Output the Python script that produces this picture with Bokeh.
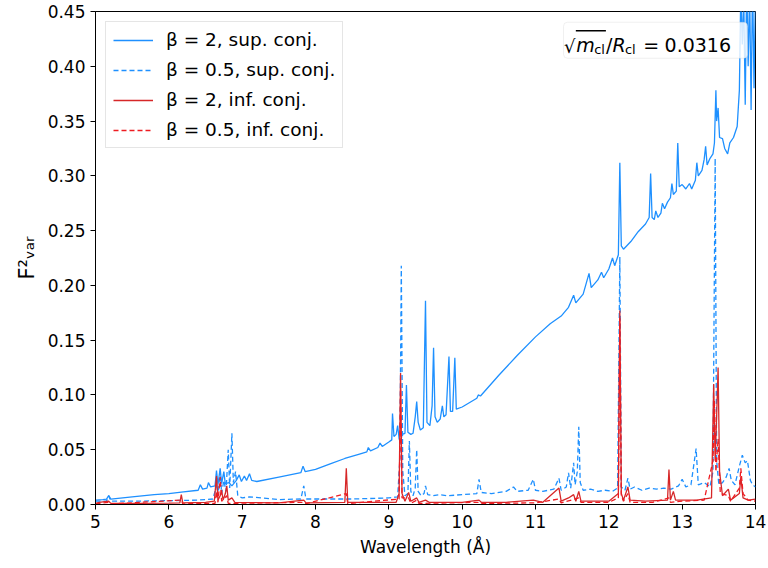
from bokeh.plotting import figure
from bokeh.models import (Range1d, FixedTicker, PrintfTickFormatter, Legend, LegendItem,
                          Label, BoxAnnotation)
from bokeh.embed import file_html
from bokeh.resources import INLINE

# ---------------- data ----------------
# beta = 2, superior conjunction (solid blue)
sup2_wl = [5.00, 5.10, 5.15, 5.18, 5.21, 5.50, 5.80, 6.00, 6.20, 6.40, 6.43, 6.46, 6.52, 6.54, 6.57,
           6.63, 6.65, 6.67, 6.70, 6.72, 6.75, 6.77, 6.82, 6.86, 6.92, 6.96, 6.99, 7.03, 7.06, 7.10,
           7.13, 7.20, 7.50, 7.80, 7.83, 7.86, 8.00, 8.20, 8.40, 8.60, 8.70, 8.72, 8.75, 8.85, 8.88,
           8.91, 9.00, 9.04, 9.05, 9.07, 9.10, 9.12, 9.14, 9.16, 9.18, 9.22, 9.24, 9.26, 9.30, 9.33,
           9.36, 9.38, 9.40, 9.43, 9.47, 9.50, 9.52, 9.56, 9.59, 9.61, 9.63, 9.66, 9.70, 9.73, 9.75,
           9.78, 9.82, 9.84, 9.87, 9.90, 9.92, 10.00, 10.20, 10.22, 10.25, 10.50, 10.75, 11.00, 11.20,
           11.35, 11.45, 11.52, 11.55, 11.65, 11.73, 11.76, 11.85, 11.90, 11.93, 12.00, 12.05, 12.08,
           12.13, 12.15, 12.17, 12.20, 12.30, 12.40, 12.50, 12.55, 12.57, 12.59, 12.62, 12.64, 12.67,
           12.71, 12.73, 12.76, 12.80, 12.84, 12.86, 12.88, 12.92, 12.94, 12.96, 13.00, 13.05, 13.10,
           13.13, 13.18, 13.20, 13.22, 13.27, 13.30, 13.32, 13.34, 13.38, 13.42, 13.44, 13.46, 13.47,
           13.49, 13.51, 13.55, 13.58, 13.62, 13.65, 13.70, 13.75, 13.78, 13.80, 13.82, 13.84, 13.86,
           13.88, 13.90, 13.92, 13.94, 13.96, 13.98, 14.00]
sup2_f = [0.004, 0.0045, 0.005, 0.008, 0.005, 0.007, 0.009, 0.010, 0.0115, 0.013, 0.018, 0.014, 0.015, 0.020, 0.016,
          0.017, 0.031, 0.018, 0.033, 0.019, 0.030, 0.019, 0.020, 0.017, 0.022, 0.027, 0.021, 0.026, 0.022, 0.028,
          0.022, 0.021, 0.025, 0.029, 0.035, 0.030, 0.032, 0.037, 0.042, 0.046, 0.048, 0.052, 0.049, 0.052, 0.056,
          0.053, 0.057, 0.059, 0.083, 0.062, 0.064, 0.072, 0.060, 0.056, 0.064, 0.065, 0.109, 0.066, 0.064, 0.065,
          0.080, 0.094, 0.075, 0.068, 0.070, 0.186, 0.075, 0.072, 0.090, 0.143, 0.080, 0.075, 0.078, 0.090, 0.080,
          0.082, 0.135, 0.085, 0.085, 0.134, 0.087, 0.089, 0.097, 0.100, 0.099, 0.118, 0.136, 0.153, 0.165,
          0.172, 0.180, 0.191, 0.184, 0.192, 0.211, 0.198, 0.205, 0.212, 0.207, 0.215, 0.225, 0.218,
          0.228, 0.312, 0.236, 0.233, 0.240, 0.249, 0.256, 0.262, 0.302, 0.262, 0.260, 0.268, 0.262,
          0.266, 0.275, 0.270, 0.276, 0.280, 0.293, 0.283, 0.286, 0.330, 0.290, 0.292, 0.288, 0.293,
          0.288, 0.296, 0.312, 0.300, 0.305, 0.315, 0.327, 0.310, 0.316, 0.320, 0.330, 0.378, 0.350,
          0.362, 0.335, 0.334, 0.325, 0.320, 0.330, 0.335, 0.345, 0.378, 0.470, 0.420, 0.460, 0.365,
          0.480, 0.400, 0.470, 0.360, 0.480, 0.380, 0.470]

# beta = 0.5, superior conjunction (dashed blue)
sup05_wl = [5.00, 5.15, 5.18, 5.21, 5.50, 6.00, 6.40, 6.60, 6.63, 6.65, 6.67, 6.70, 6.72, 6.75, 6.78,
            6.81, 6.83, 6.86, 6.88, 6.91, 6.94, 7.00, 7.10, 7.50, 7.80, 7.84, 7.87, 8.20, 8.50, 9.00,
            9.12, 9.15, 9.17, 9.19, 9.22, 9.26, 9.28, 9.30, 9.33, 9.36, 9.38, 9.40, 9.44, 9.48, 9.50,
            9.53, 9.60, 9.70, 9.80, 10.00, 10.20, 10.23, 10.26, 10.40, 10.60, 10.70, 10.75, 10.90, 10.97,
            11.00, 11.10, 11.25, 11.32, 11.35, 11.42, 11.45, 11.48, 11.52, 11.54, 11.57, 11.59, 11.61,
            11.65, 11.75, 11.85, 11.95, 12.05, 12.12, 12.15, 12.17, 12.22, 12.26, 12.29, 12.35, 12.45,
            12.55, 12.65, 12.75, 12.85, 12.95, 13.00, 13.05, 13.12, 13.19, 13.22, 13.30, 13.38, 13.42,
            13.45, 13.47, 13.50, 13.55, 13.60, 13.64, 13.67, 13.72, 13.78, 13.82, 13.86, 13.89, 13.93,
            13.96, 14.00]
sup05_f = [0.003, 0.003, 0.008, 0.003, 0.003, 0.0035, 0.004, 0.005, 0.012, 0.020, 0.008, 0.030, 0.010, 0.022, 0.012,
           0.050, 0.015, 0.065, 0.020, 0.030, 0.008, 0.006, 0.007, 0.0045, 0.005, 0.017, 0.005, 0.005, 0.005, 0.006,
           0.007, 0.040, 0.218, 0.030, 0.008, 0.010, 0.058, 0.012, 0.008, 0.015, 0.050, 0.012, 0.008, 0.010, 0.017,
           0.009, 0.008, 0.009, 0.008, 0.009, 0.010, 0.023, 0.011, 0.010, 0.012, 0.016, 0.012, 0.013, 0.023,
           0.013, 0.012, 0.014, 0.024, 0.013, 0.016, 0.029, 0.015, 0.038, 0.018, 0.030, 0.071, 0.020,
           0.013, 0.014, 0.012, 0.013, 0.012, 0.015, 0.226, 0.016, 0.013, 0.024, 0.014, 0.016, 0.013,
           0.015, 0.014, 0.015, 0.014, 0.017, 0.023, 0.016, 0.018, 0.051, 0.018, 0.020, 0.016, 0.030,
           0.316, 0.040, 0.018, 0.020, 0.025, 0.033, 0.022, 0.018, 0.035, 0.045, 0.038, 0.040, 0.022,
           0.018, 0.016]

# beta = 2, inferior conjunction (solid red)
inf2_wl = [5.00, 5.05, 5.18, 5.21, 5.60, 6.00, 6.15, 6.17, 6.19, 6.50, 6.62, 6.65, 6.67, 6.70, 6.72,
           6.74, 6.77, 6.79, 6.81, 6.86, 6.90, 7.50, 7.84, 7.87, 8.40, 8.42, 8.44, 9.10, 9.14, 9.16,
           9.18, 9.22, 9.27, 9.30, 9.38, 9.41, 9.50, 9.55, 10.00, 10.23, 10.26, 10.60, 10.97, 11.10,
           11.32, 11.35, 11.45, 11.52, 11.55, 11.59, 11.62, 12.00, 12.13, 12.15, 12.17, 12.20, 12.26,
           12.29, 12.50, 12.80, 12.82, 12.84, 12.88, 12.91, 13.20, 13.40, 13.43, 13.45, 13.47, 13.49,
           13.51, 13.55, 13.63, 13.66, 13.78, 13.80, 13.83, 13.90, 14.00]
inf2_f = [0.001, 0.002, 0.003, 0.001, 0.001, 0.0012, 0.0015, 0.009, 0.0015, 0.002, 0.003, 0.026, 0.004, 0.008, 0.013,
          0.004, 0.010, 0.017, 0.004, 0.006, 0.002, 0.0015, 0.004, 0.0015, 0.002, 0.033, 0.002, 0.002, 0.010, 0.120,
          0.010, 0.003, 0.011, 0.003, 0.006, 0.002, 0.004, 0.002, 0.002, 0.004, 0.002, 0.002, 0.004, 0.002,
          0.015, 0.003, 0.006, 0.009, 0.003, 0.012, 0.003, 0.003, 0.010, 0.177, 0.010, 0.004, 0.016,
          0.004, 0.003, 0.004, 0.032, 0.004, 0.012, 0.004, 0.004, 0.006, 0.110, 0.040, 0.080, 0.125,
          0.030, 0.008, 0.014, 0.004, 0.010, 0.025, 0.006, 0.004, 0.005]

# beta = 0.5, inferior conjunction (dashed red)
inf05_wl = [5.00, 5.18, 5.21, 6.17, 6.19, 6.63, 6.65, 6.67, 6.70, 6.72, 6.79, 6.81, 7.84, 7.87, 8.42,
            8.44, 9.14, 9.16, 9.18, 9.27, 9.30, 9.38, 9.41, 10.23, 10.26, 11.00, 11.32, 11.35, 11.59,
            11.62, 12.00, 12.13, 12.15, 12.17, 12.20, 12.26, 12.29, 12.60, 12.82, 12.84, 13.00, 13.30,
            13.42, 13.44, 13.46, 13.49, 13.52, 13.63, 13.66, 13.78, 13.80, 13.83, 13.90, 14.00]
inf05_f = [0.0005, 0.002, 0.0005, 0.004, 0.0006, 0.001, 0.012, 0.002, 0.025, 0.003, 0.008, 0.001, 0.002, 0.0008, 0.010,
           0.0008, 0.005, 0.105, 0.006, 0.006, 0.001, 0.004, 0.001, 0.002, 0.001, 0.0015, 0.005, 0.0015, 0.006,
           0.002, 0.002, 0.006, 0.170, 0.008, 0.003, 0.010, 0.002, 0.002, 0.006, 0.002, 0.003, 0.004,
           0.040, 0.095, 0.030, 0.060, 0.010, 0.008, 0.003, 0.015, 0.033, 0.010, 0.004, 0.003]

x_ticks = [5, 6, 7, 8, 9, 10, 11, 12, 13, 14]
y_ticks = [0.00, 0.05, 0.10, 0.15, 0.20, 0.25, 0.30, 0.35, 0.40, 0.45]
labels = ["β = 2, sup. conj.", "β = 0.5, sup. conj.", "β = 2, inf. conj.", "β = 0.5, inf. conj."]

# ---------------- figure ----------------
FONT = "DejaVu Sans"
BLUE = "#1E90FF"
RED = "#D62728"
RED2 = "#EE1C22"

p = figure(width=768, height=568, output_backend="svg", toolbar_location=None,
           x_range=Range1d(5, 14), y_range=Range1d(0, 0.45),
           min_border_left=95, min_border_right=13, min_border_top=11, min_border_bottom=64)
p.background_fill_color = "white"
p.border_fill_color = "white"
p.outline_line_color = "black"
p.outline_line_width = 1
p.xgrid.visible = False
p.ygrid.visible = False

for ax in (p.xaxis[0], p.yaxis[0]):
    ax.major_tick_out = 5
    ax.major_tick_in = 0
    ax.minor_tick_out = 0
    ax.minor_tick_in = 0
    ax.axis_line_color = "black"
    ax.major_tick_line_color = "black"
    ax.major_label_text_font = FONT
    ax.major_label_text_font_size = "17px"
    ax.major_label_text_color = "black"
    ax.axis_label_text_font = FONT
    ax.axis_label_text_font_size = "17px"
    ax.axis_label_text_font_style = "normal"
    ax.axis_label_text_color = "black"

p.xaxis.ticker = FixedTicker(ticks=x_ticks)
p.yaxis.ticker = FixedTicker(ticks=y_ticks)
p.yaxis.formatter = PrintfTickFormatter(format="%.2f")
p.xaxis.axis_label = "Wavelength (Å)"
p.yaxis.axis_label = "F²ᵥₐᵣ"
p.yaxis.axis_label_text_font_size = "21px"
p.xaxis.major_label_standoff = 5
p.xaxis.axis_label_standoff = 6
p.yaxis.major_label_standoff = 5
p.yaxis.axis_label_standoff = 6

r1 = p.line(x=sup2_wl, y=sup2_f, line_color=BLUE, line_width=1.3)
r2 = p.line(x=sup05_wl, y=sup05_f, line_color=BLUE, line_width=1.3, line_dash="5 3")
r3 = p.line(x=inf2_wl, y=inf2_f, line_color=RED, line_width=1.3)
r4 = p.line(x=inf05_wl, y=inf05_f, line_color=RED2, line_width=1.3, line_dash="5 3")

legend = Legend(items=[LegendItem(label=labels[0], renderers=[r1]),
                       LegendItem(label=labels[1], renderers=[r2]),
                       LegendItem(label=labels[2], renderers=[r3]),
                       LegendItem(label=labels[3], renderers=[r4])],
                location="top_left")
legend.label_text_font = FONT
legend.label_text_font_size = "18.5px"
legend.label_text_color = "black"
legend.glyph_width = 40
legend.glyph_height = 20
legend.label_height = 20
legend.label_standoff = 13
legend.spacing = 9
legend.padding = 7
legend.margin = 10
legend.border_line_color = "#cccccc"
legend.border_line_width = 1
legend.background_fill_color = "white"
legend.background_fill_alpha = 0.8
p.add_layout(legend)

# ---------------- annotation box (top right) ----------------
box = BoxAnnotation(left=11.382, right=13.891, top=0.4402, bottom=0.4073,
                    fill_color="white", fill_alpha=0.8, line_color="#cccccc", line_width=1,
                    border_radius=4)
p.add_layout(box)
over = BoxAnnotation(left=11.55, right=11.96, top=0.4330, bottom=0.4318,
                     fill_color="black", fill_alpha=1.0, line_color=None)
p.add_layout(over)

def lab(x, y, t, size="19px", style="normal"):
    p.add_layout(Label(x=x, y=y, text=t, text_font=FONT, text_font_size=size,
                       text_font_style=style, text_color="black", text_baseline="alphabetic",
                       text_align="left"))

base = 0.4192
lab(11.39, base - 0.001, "√", size="18px")
lab(11.555, base, "m", style="italic")
lab(11.80, base - 0.0035, "cl", size="13px")
lab(11.96, base, "/")
lab(12.05, base, "R", style="italic")
lab(12.22, base - 0.0035, "cl", size="13px")
lab(12.47, base, "=")
lab(12.76, base, "0.0316")

open("out.html", "w").write(file_html(p, INLINE))
